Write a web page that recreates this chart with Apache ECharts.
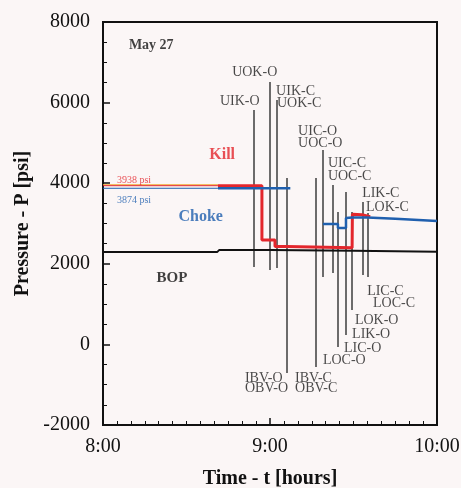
<!DOCTYPE html>
<html><head><meta charset="utf-8">
<script src="https://cdn.jsdelivr.net/npm/echarts@6/dist/echarts.min.js"></script>
<style>html,body{margin:0;padding:0;background:#fbf6f6}#c{width:461px;height:488px}</style>
</head><body><div id="c"></div>
<script>
// time in minutes after 8:00, pressure in psi
const killTime  = [41.3, 57.1, 57.1, 61.8, 61.8, 66.0, 66.0, 89.5, 89.6, 93.0, 96.0];
const killP     = [3938, 3938, 2590, 2590, 2430, 2430, 2400, 2400, 3230, 3220, 3170];
const chokeTime = [41.3, 67.3, null, 79.0, 84.4, 84.4, 87.3, 87.3, 89.5, 95.0, 105.0, 120.0];
const chokeP    = [3874, 3874, null, 2987, 2987, 2888, 2888, 3136, 3150, 3150, 3120, 3060];
const bopTime   = [0, 41.0, 41.8, 60, 90, 120];
const bopP      = [2290, 2290, 2345, 2340, 2325, 2300];
const initKill = 3938, initChoke = 3874, initEnd = 41.3;

// event marker lines: time, top pressure, bottom pressure
const eventTime   = [54.3, 60.0, 62.5, 66.1, 76.5, 79.0, 82.6, 84.4, 87.3, 89.5, 93.4, 95.2];
const eventTop    = [5815, 6510, 6063, 4128, 4128, 4823, 3954, 3285, 3781, 3285, 3533, 3260];
const eventBottom = [1920, 1846, 1895, -710, -561, 1672, 1771, -65, 233, 853, 1722, 1672];

// event labels: text and anchor (time, pressure) of left edge
const evLabels = ['UOK-O','UIK-O','UIK-C','UOK-C','UIC-O','UOC-O','UIC-C','UOC-C','LIK-C','LOK-C',
                  'LIC-C','LOC-C','LOK-O','LIK-O','LIC-O','LOC-O','IBV-O','OBV-O','IBV-C','OBV-C'];
const evLabelT  = [46.4, 42.0, 62.2, 62.5, 70.1, 70.1, 80.8, 80.8, 93.1, 94.5,
                   94.9, 97.0, 90.5, 89.5, 86.6, 79.0, 51.0, 51.0, 69.0, 69.0];
const evLabelP  = [6758, 6038, 6287, 5989, 5294, 4996, 4500, 4178, 3756, 3409,
                   1325, 1027, 605, 258, -90, -387, -834, -1082, -834, -1082];

const yTicks = [-2000, 0, 2000, 4000, 6000, 8000];
const xTickLabels = ['8:00', '9:00', '10:00'];

const red = '#e3262c', blue = '#1f5fae', blk = '#111';
const serif = '"Liberation Serif", "DejaVu Serif", serif';

function pairs(t, p){ return t.map((v,i)=> v===null ? [null,null] : [v,p[i]]); }

const chart = echarts.init(document.getElementById('c'));
const labelStyle = {show:true, position:'inside', fontFamily:serif, fontSize:14, color:'#1c1c1c', align:'left', verticalAlign:'middle'};

const option = {
  backgroundColor:'#fbf6f6',
  animation:false,
  grid:{left:103, right:24, top:22, bottom:63, show:true, borderColor:blk, borderWidth:2, backgroundColor:'transparent', containLabel:false, outerBoundsMode:'none'},
  xAxis:{type:'value', min:0, max:120, interval:60,
    name:'Time - t [hours]', nameLocation:'middle', nameGap:44,
    nameTextStyle:{fontFamily:serif, fontSize:20, fontWeight:'bold', color:blk},
    axisLine:{onZero:false, lineStyle:{color:blk, width:2}},
    axisTick:{inside:true, length:7, lineStyle:{color:blk, width:1.5}},
    minorTick:{show:true, splitNumber:12, length:4, lineStyle:{color:blk}},
    splitLine:{show:false},
    axisLabel:{fontFamily:serif, fontSize:20, color:blk, margin:12, formatter:v=>xTickLabels[Math.round(v/60)]}
  },
  yAxis:{type:'value', min:yTicks[0], max:yTicks[yTicks.length-1], interval:2000,
    name:'Pressure - P [psi]', nameLocation:'middle', nameGap:52,
    nameTextStyle:{fontFamily:serif, fontSize:20, fontWeight:'bold', color:blk},
    axisLine:{onZero:false, lineStyle:{color:blk, width:2}},
    axisTick:{inside:true, length:7, lineStyle:{color:blk, width:1.5}},
    minorTick:{show:true, splitNumber:4, length:4, lineStyle:{color:blk}},
    splitLine:{show:false},
    axisLabel:{fontFamily:serif, fontSize:20, color:blk, margin:13, formatter:v=>String(v)}
  },
  series:[
    {type:'line', data:[[0,initKill+25],[initEnd,initKill+25]], symbol:'none', lineStyle:{color:'#f0b040', width:1}, z:2},
    {type:'line', data:[[0,initKill],[initEnd,initKill]], symbol:'none', lineStyle:{color:red, width:1}, z:2},
    {type:'line', data:[[0,initChoke],[initEnd,initChoke]], symbol:'none', lineStyle:{color:blue, width:1}, z:2},
    {type:'lines', coordinateSystem:'cartesian2d', polyline:false,
      data: eventTime.map((t,i)=>({coords:[[t,eventTop[i]],[t,eventBottom[i]]]})),
      lineStyle:{color:'#3c3c3c', width:1.5, opacity:1}, z:3},
    {type:'line', data:pairs(bopTime,bopP), symbol:'none', lineStyle:{color:blk, width:2}, z:4},
    {type:'line', data:pairs(killTime,killP), symbol:'none', lineStyle:{color:red, width:3}, z:5},
    {type:'line', data:pairs(chokeTime,chokeP), symbol:'none', connectNulls:false, lineStyle:{color:blue, width:2.5}, z:6},
    {type:'scatter', symbolSize:0, z:7,
      data: evLabels.map((s,i)=>({value:[evLabelT[i], evLabelP[i]], label:Object.assign({}, labelStyle, {formatter:s})}))},
    {type:'scatter', symbolSize:0, z:7,
      data:[
        {value:[9.3,7428], label:{show:true, formatter:'May 27', fontFamily:serif, fontSize:14, fontWeight:'bold', color:blk, align:'left', verticalAlign:'middle'}},
        {value:[42.8,4699], label:{show:true, formatter:'Kill', fontFamily:serif, fontSize:16, fontWeight:'bold', color:red, align:'center', verticalAlign:'middle'}},
        {value:[35.1,3160], label:{show:true, formatter:'Choke', fontFamily:serif, fontSize:16, fontWeight:'bold', color:blue, align:'center', verticalAlign:'middle'}},
        {value:[24.8,1647], label:{show:true, formatter:'BOP', fontFamily:serif, fontSize:15, fontWeight:'bold', color:blk, align:'center', verticalAlign:'middle'}},
        {value:[5.0,4078], label:{show:true, formatter:'3938 psi', fontFamily:serif, fontSize:10, color:red, align:'left', verticalAlign:'middle'}},
        {value:[5.0,3582], label:{show:true, formatter:'3874 psi', fontFamily:serif, fontSize:10, color:blue, align:'left', verticalAlign:'middle'}}
      ]}
  ]
};
chart.setOption(option);
</script></body></html>
